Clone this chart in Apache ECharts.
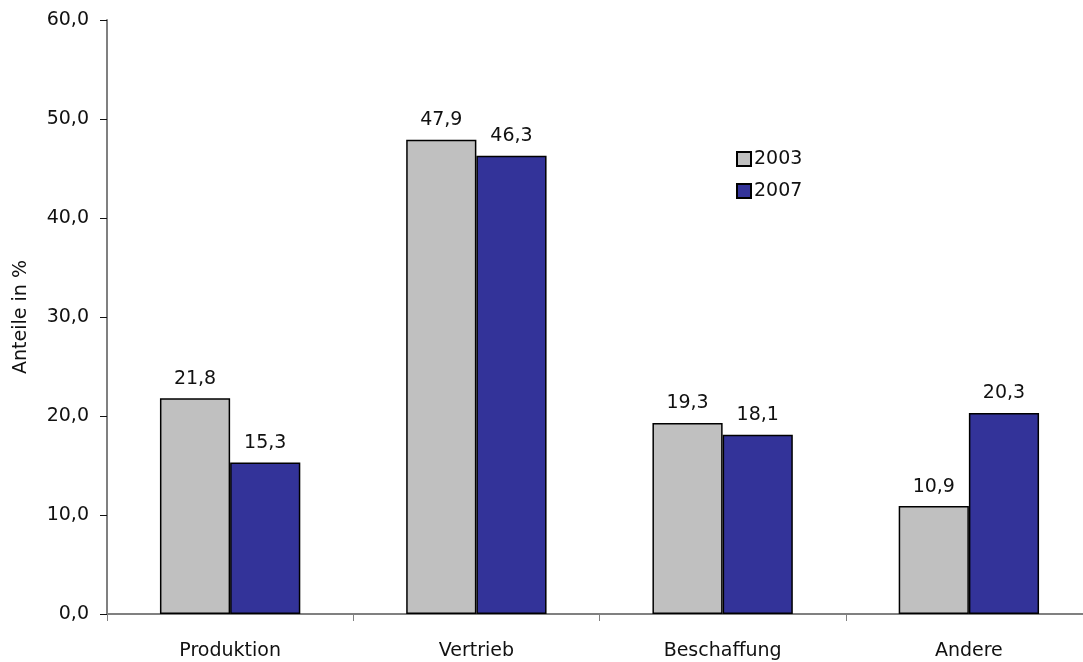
<!DOCTYPE html>
<html>
<head>
<meta charset="utf-8">
<script src="https://cdn.jsdelivr.net/npm/echarts@6/dist/echarts.min.js"></script>
<style>
  html, body { margin: 0; padding: 0; background: #fff; }
  #chart { width: 1083px; height: 662px; }
</style>
</head>
<body>
<div id="chart"></div>
<script>
// Anteile nach Bereich, 2003 vs. 2007
const categories = ['Produktion', 'Vertrieb', 'Beschaffung', 'Andere'];
const values2003 = [21.8, 47.9, 19.3, 10.9];
const values2007 = [15.3, 46.3, 18.1, 20.3];
const seriesNames = ['2003', '2007'];
const yTicks = { min: 0, max: 60, interval: 10 };

const fontFamily = '"DejaVu Sans", sans-serif';
const fontSize = 19;
const fmt = v => v.toFixed(1).replace('.', ',');

const chart = echarts.init(document.getElementById('chart'));

function barSeries(name, data, color) {
  return {
    name: name,
    type: 'bar',
    data: data,
    barGap: '0%',
    barCategoryGap: '43%',
    itemStyle: { color: color, borderColor: '#000', borderWidth: 1.5 },
    label: {
      show: true,
      position: 'top',
      distance: 10,
      color: '#111',
      fontFamily: fontFamily,
      fontSize: fontSize,
      formatter: p => fmt(p.value)
    }
  };
}

chart.setOption({
  animation: false,
  backgroundColor: '#fff',
  grid: {
    left: 107, top: 20, bottom: 48, width: 985,
    containLabel: false,
    outerBoundsMode: 'none'
  },
  legend: {
    orient: 'vertical',
    left: 731,
    top: 144,
    itemWidth: 14,
    itemHeight: 14,
    itemGap: 12,
    icon: 'rect',
    textStyle: { fontFamily: fontFamily, fontSize: fontSize, lineHeight: 20, color: '#111', padding: [0, 0, 0, -2] },
    data: seriesNames
  },
  xAxis: {
    type: 'category',
    data: categories,
    axisLine: { lineStyle: { color: '#808080', width: 2 } },
    axisTick: { show: true, alignWithLabel: false, length: 7, lineStyle: { color: '#808080', width: 1 } },
    axisLabel: { color: '#111', fontFamily: fontFamily, fontSize: fontSize, margin: 28 }
  },
  yAxis: {
    type: 'value',
    min: yTicks.min,
    max: yTicks.max,
    interval: yTicks.interval,
    name: 'Anteile in %',
    nameLocation: 'middle',
    nameGap: 76,
    nameRotate: 90,
    nameTextStyle: { color: '#111', fontFamily: fontFamily, fontSize: fontSize },
    splitLine: { show: false },
    axisLine: { show: true, lineStyle: { color: '#808080', width: 2 } },
    axisTick: { show: true, inside: false, length: 7, lineStyle: { color: '#111', width: 1 } },
    axisLabel: { color: '#111', fontFamily: fontFamily, fontSize: fontSize, margin: 18, formatter: v => fmt(v) }
  },
  series: [
    barSeries(seriesNames[0], values2003, '#c0c0c0'),
    barSeries(seriesNames[1], values2007, '#333399')
  ]
});
</script>
</body>
</html>
